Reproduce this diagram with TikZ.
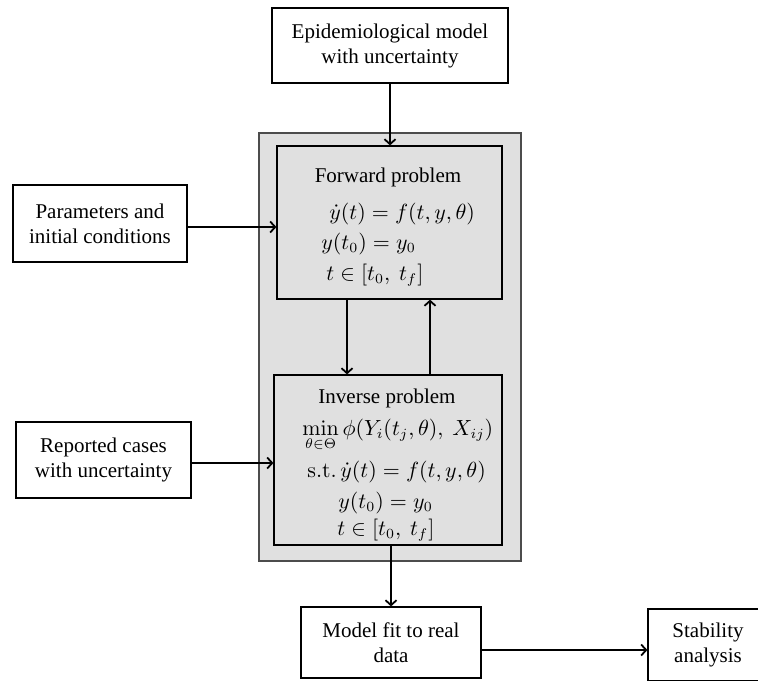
\documentclass[tikz,border=0pt]{standalone}
\usepackage[no-math]{fontspec}
\setmainfont{Liberation Serif}
\usetikzlibrary{arrows.meta}
\definecolor{panelgray}{gray}{0.88}

\begin{document}
\begin{tikzpicture}[x=.5pt,y=-.5pt,
    box/.style={draw,line width=.6pt,fill=white,inner sep=0pt,align=center,
      font=\fontsize{10.5}{12.5}\selectfont},
    stage/.style={draw,line width=.6pt,fill=panelgray,inner sep=0pt},
    txt/.style={inner sep=0pt,font=\fontsize{10.5}{12.5}\selectfont},
    link/.style={line width=.9pt,-{Straight Barb[length=2.5pt,width=5.5pt]}}]
  \useasboundingbox (0,0) rectangle (758,680);
  \clip (0,0) rectangle (758,680);
  \fill[white] (0,0) rectangle (758,680);
  %
  \node[stage,draw=black!70,minimum width=131pt,minimum height=214pt] (panel) at (390,347) {};
  \node[stage,minimum width=112.5pt,minimum height=76.5pt] (fwd) at (389.5,222.5) {};
  \node[stage,minimum width=114pt,minimum height=85pt] (inv) at (388,460) {};
  %
  \node[txt,anchor=base] (fwdtitle) at (388,182) {Forward problem};
  \node[txt,anchor=base west] (fwdode) at (329,219) {$\dot y(t)=f(t,y,\theta)$};
  \node[txt,anchor=base west] (fwdinit) at (321,249) {$y(t_0)=y_0$};
  \node[txt,anchor=base west] (fwdspan) at (326,280) {$t\in[t_0,\ t_f]$};
  %
  \node[txt,anchor=base] (invtitle) at (387,403) {Inverse problem};
  \node[txt,anchor=base west] (invmin) at (302,435)
       {$\displaystyle\min_{\theta\in\Theta}\phi(Y_i(t_j,\theta),\ X_{ij})$};
  \node[txt,anchor=base west] (invode) at (307,477) {$\mathrm{s.t.}\,\dot y(t)=f(t,y,\theta)$};
  \node[txt,anchor=base west] (invinit) at (338,508) {$y(t_0)=y_0$};
  \node[txt,anchor=base west] (invspan) at (337,535) {$t\in[t_0,\ t_f]$};
  %
  \node[box,minimum width=118pt,minimum height=37.5pt] (epi) at (390,45.5)
       {Epidemiological model\\with uncertainty};
  \node[box,minimum width=87pt,minimum height=38.5pt] (params) at (100,223.5)
       {Parameters and\\initial conditions};
  \node[box,minimum width=87.5pt,minimum height=38pt] (reported) at (103.5,460)
       {Reported cases\\with uncertainty};
  \node[box,minimum width=90pt,minimum height=35.5pt] (fit) at (391,642.5)
       {Model fit to real\\data};
  \node[box,minimum width=60pt,minimum height=36pt] (stab) at (708,645)
       {Stability\\analysis};
  %
  \draw[link] (epi.south) -- (epi.south |- fwd.north);
  \draw[link] (params.east |- 0,227) -- (fwd.west |- 0,227);
  \draw[link] (347,0 |- fwd.south) -- (347,0 |- inv.north);
  \draw[link] (430,0 |- inv.north) -- (430,0 |- fwd.south);
  \draw[link] (reported.east |- 0,463) -- (inv.west |- 0,463);
  \draw[link] (391,0 |- inv.south) -- (391,0 |- fit.north);
  \draw[link] (fit.east |- 0,650) -- (stab.west |- 0,650);
\end{tikzpicture}
\end{document}
